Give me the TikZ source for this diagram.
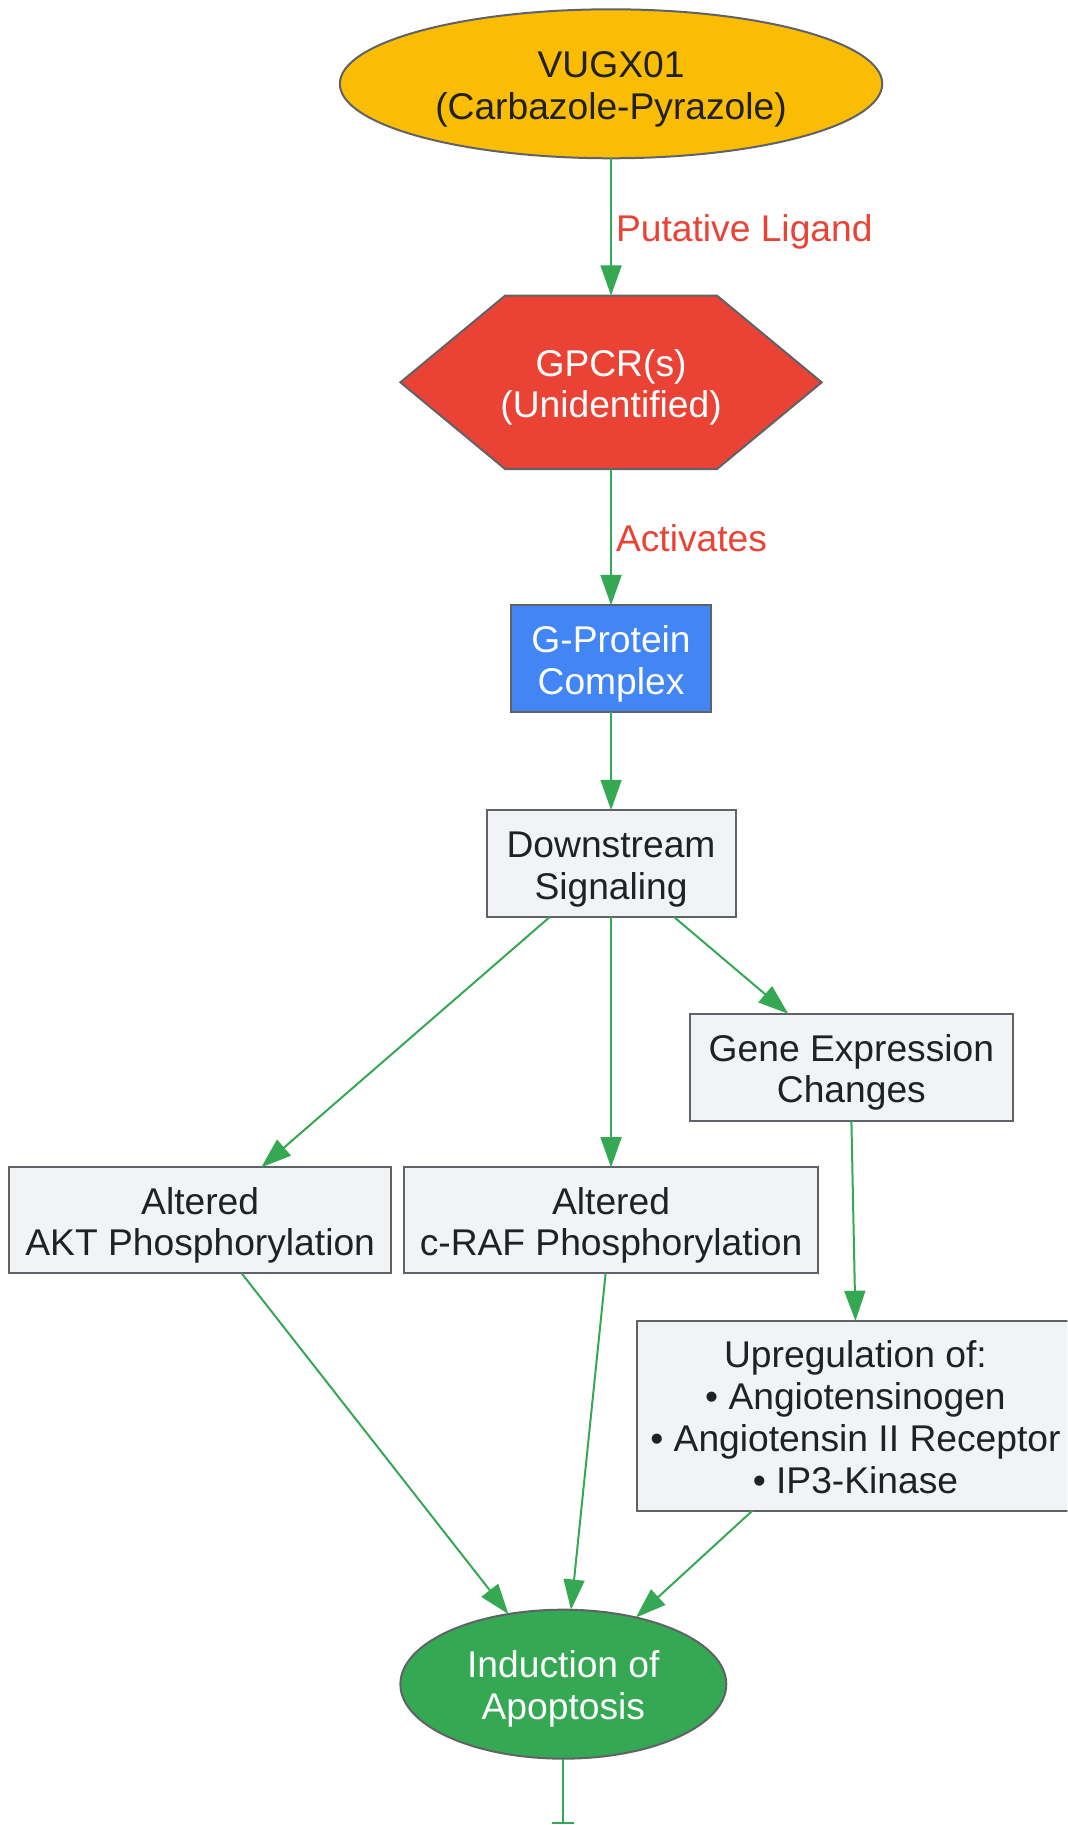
\documentclass[tikz,border=0pt]{standalone}
\usepackage{fontspec}
\setmainfont{Liberation Sans}
\usetikzlibrary{arrows.meta,shapes.geometric}
\definecolor{cyel}{HTML}{FBBC04}
\definecolor{cred}{HTML}{EA4335}
\definecolor{cblue}{HTML}{4285F4}
\definecolor{cgreen}{HTML}{34A853}
\definecolor{clight}{HTML}{F1F3F4}
\definecolor{cborder}{HTML}{5F6368}
\definecolor{ctext}{HTML}{202124}
\def\pu{0.8727pt}
\newcommand\tst{\rule{0pt}{29pt}}
\newcommand\bst{\rule[-7pt]{0pt}{7pt}}
\begin{document}
\begin{tikzpicture}[x=0.8727pt, y=-0.8727pt,
  struts/.style={execute at begin node={\rule{0pt}{29pt}}, execute at end node={\rule[-7pt]{0pt}{7pt}}},
  base/.style={font=\fontsize{27.9}{31.4}\selectfont, align=center, inner sep=0pt, outer sep=0pt, draw=cborder, line width=1.5pt, text=ctext},
  box/.style={base, rectangle, fill=clight},
  oval/.style={base, ellipse},
  edge/.style={draw=cgreen, line width=1.5pt, -{Triangle[length=22.7pt,width=15.7pt]}},
  lbl/.style={font=\fontsize{27.9}{31.4}\selectfont, text=cred, inner sep=3pt, struts}]
\useasboundingbox (0,0) rectangle (917,1568);
\clip (0,0) rectangle (917,1568);

% nodes
\node[oval, fill=cyel, minimum width=466*\pu, minimum height=128*\pu] (vugx) at (525,72) {\tst VUGX01\\(Carbazole-Pyrazole)\bst};

\filldraw[fill=cred, draw=cborder, line width=1.5pt, line join=miter]
  (344,328.5) -- (434,254) -- (616,254) -- (706,328.5) -- (616,403) -- (434,403) -- cycle;
\node[base, draw=none, text=white, minimum width=362*\pu, minimum height=149*\pu] (gpcr) at (525,328.5) {\tst GPCR(s)\\(Unidentified)\bst};

\node[box, fill=cblue, text=white, minimum width=172*\pu, minimum height=92*\pu] (gprot) at (525,566) {\tst G-Protein\\Complex\bst};
\node[box, minimum width=214*\pu, minimum height=92*\pu] (down) at (525,742) {\tst Downstream\\Signaling\bst};
\node[box, minimum width=277*\pu, minimum height=92*\pu] (gene) at (731.5,917) {\tst Gene Expression\\Changes\bst};
\node[box, minimum width=328*\pu, minimum height=91*\pu] (akt) at (172,1048.5) {\tst Altered\\AKT Phosphorylation\bst};
\node[box, minimum width=356*\pu, minimum height=91*\pu] (craf) at (525,1048.5) {\tst Altered\\c-RAF Phosphorylation\bst};
\node[box, minimum width=376*\pu, minimum height=163*\pu] (upreg) at (735,1216.5) {\tst Upregulation of:\\\textbullet\ Angiotensinogen\\\textbullet\ Angiotensin II Receptor\\\textbullet\ IP3-Kinase\bst};
\node[oval, fill=cgreen, text=white, minimum width=280*\pu, minimum height=128*\pu] (apop) at (484,1447) {\tst Induction of\\Apoptosis\bst};
\coordinate (bend) at (484,1567);

% edges
\draw[edge] (vugx) -- node[lbl, right] {Putative Ligand} (gpcr);
\draw[edge] (gpcr) -- node[lbl, right] {Activates} (gprot);
\draw[edge] (gprot) -- (down);
\draw[edge] (down) -- (akt);
\draw[edge] (down) -- (craf);
\draw[edge] (down) -- (gene);
\draw[edge] (gene.south) -- (upreg.north);
\draw[edge] (akt) -- (apop);
\draw[edge] (craf) -- (apop);
\draw[edge] (upreg) -- (apop);
\draw[draw=cgreen, line width=1.5pt, -{Bar[width=19*\pu]}] (apop) -- (bend);
\end{tikzpicture}
\end{document}
